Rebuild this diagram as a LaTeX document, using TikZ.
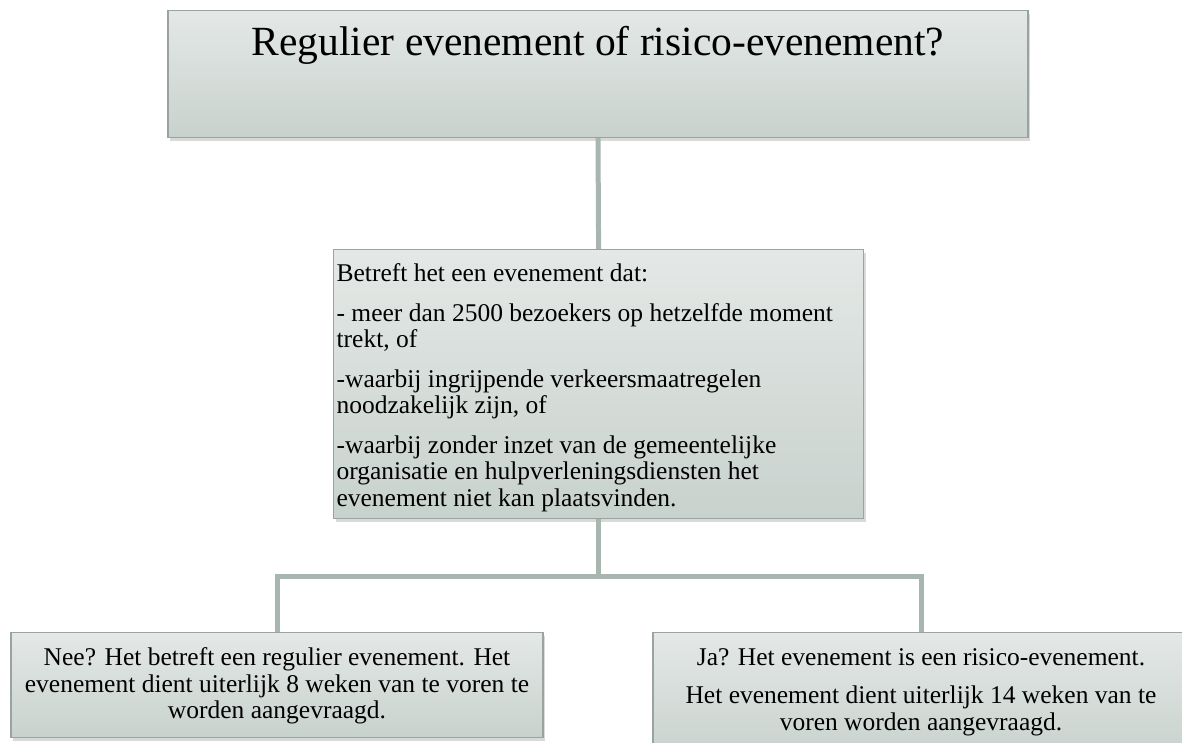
\documentclass[tikz,border=0pt]{standalone}
\usepackage{fontspec}
\setmainfont{Liberation Serif}
\usetikzlibrary{shadows}
\definecolor{vaktop}{HTML}{E4E8E6}
\definecolor{vakbodem}{HTML}{C8D2CD}
\definecolor{vakrand}{HTML}{9AA39F}
\definecolor{lijnkleur}{HTML}{A9B6B0}

\begin{document}
\begin{tikzpicture}[x=1pt,y=-1pt]
	\tikzstyle{every node}=[font=\fontsize{25.5}{26.5}\selectfont]
	\tikzstyle{vak}=[draw=vakrand, line width=1.2pt, top color=vaktop, bottom color=vakbodem, inner xsep=3pt, inner ysep=0pt, drop shadow={shadow xshift=2pt, shadow yshift=-3pt, opacity=0.3}]
	\tikzstyle{lijn}=[draw=lijnkleur, line width=5pt]
	\clip (0,0) rectangle (1182,742);
	% vraag bovenaan
	\node[vak, anchor=north, font=\fontsize{41.5}{48}\selectfont] (vraag) at (598,10) {\parbox[c][127pt][t]{854pt}{\centering\rule{0pt}{45pt}Regulier evenement of risico-evenement?}};
	\node[vak, anchor=north west] (criteria) at (333,249) {\parbox[c][269pt][t]{524pt}{\raggedright\rule{0pt}{32pt}Betreft het een evenement dat:\\[13pt]
		- meer dan 2500 bezoekers op hetzelfde moment\\ trekt, of\\[13pt]
		-waarbij ingrijpende verkeersmaatregelen\\ noodzakelijk zijn, of\\[13pt]
		-waarbij zonder inzet van de gemeentelijke\\ organisatie en hulpverleningsdiensten het\\ evenement niet kan plaatsvinden.}};
	% antwoorden
	\node[vak, anchor=north] (nee) at (277,632) {\parbox[c][105pt][t]{526pt}{\centering\rule{0pt}{33pt}Nee? Het betreft een regulier evenement. Het\\ evenement dient uiterlijk 8 weken van te voren te\\ worden aangevraagd.}};
	\node[vak, anchor=north] (ja) at (921,632) {\parbox[c][125pt][t]{530pt}{\centering\rule{0pt}{33pt}Ja? Het evenement is een risico-evenement.\\[11.5pt] Het evenement dient uiterlijk 14 weken van te\\ voren worden aangevraagd.}};
	\draw[lijn] (vraag.south) -- (criteria.north);
	\draw[lijn] (criteria.south) -- ++(0,57) -| (nee.north);
	\draw[lijn] (criteria.south) -- ++(0,57) -| (ja.north);
\end{tikzpicture}
\end{document}
